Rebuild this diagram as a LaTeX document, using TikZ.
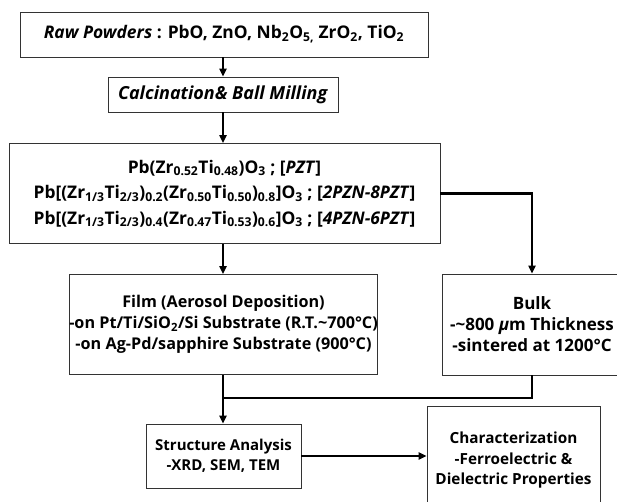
\documentclass[tikz,border=0pt]{standalone}
\usepackage{fontspec}
\setmainfont{Open Sans}
\usetikzlibrary{arrows.meta}
\newcommand\ssub[1]{\textsubscript{#1}}
\tikzset{
  box/.style={draw=black!80, line width=0.8pt, inner sep=0pt, align=center, font=\bfseries\fontsize{17.4}{25.5}\selectfont},
  conn/.style={line width=2.2pt, black},
  arr/.style={conn, -{Triangle[length=8pt,width=7pt]}}
}
\begin{document}
\begin{tikzpicture}[x=1pt,y=-1pt]
\useasboundingbox (0,0) rectangle (617,502);
\clip (0,0) rectangle (617,502);
\fill[white] (0,0) rectangle (617,502);
\node[box, minimum width=408pt, minimum height=45pt] (raw) at (224,34.5)
  {\textit{Raw Powders} : PbO, ZnO, Nb\ssub{2}O\ssub{5,} ZrO\ssub{2}, TiO\ssub{2}};
\node[box, minimum width=230pt, minimum height=35pt, font=\bfseries\fontsize{18}{22}\selectfont] (calc) at (223,94.5)
  {\textit{Calcination\& Ball Milling}};
\node[box, minimum width=431pt, minimum height=100pt] (comp) at (224.5,193.5)
  {Pb(Zr\ssub{0.52}Ti\ssub{0.48})O\ssub{3} ; [\textit{PZT}]\\
   Pb[(Zr\ssub{1/3}Ti\ssub{2/3})\ssub{0.2}(Zr\ssub{0.50}Ti\ssub{0.50})\ssub{0.8}]O\ssub{3} ; [\textit{2PZN-8PZT}]\\
   Pb[(Zr\ssub{1/3}Ti\ssub{2/3})\ssub{0.4}(Zr\ssub{0.47}Ti\ssub{0.53})\ssub{0.6}]O\ssub{3} ; [\textit{4PZN-6PZT}]};
\node[box, minimum width=305pt, minimum height=100pt, font=\bfseries\fontsize{16.2}{21}\selectfont] (film) at (223.5,324.5)
  {Film (Aerosol Deposition)\\
   -on Pt/Ti/SiO\ssub{2}/Si Substrate (R.T.\textasciitilde700°C)\\
   -on Ag-Pd/sapphire Substrate (900°C)};
\node[box, minimum width=180pt, minimum height=101pt, font=\bfseries\fontsize{17}{21}\selectfont] (bulk) at (532,324.5)
  {Bulk\\ -\textasciitilde800 \textit{μ}m Thickness\\ -sintered at 1200°C};
\node[box, minimum width=155pt, minimum height=64pt, font=\bfseries\fontsize{15}{20}\selectfont] (struct) at (223.5,456)
  {Structure Analysis\\ -XRD, SEM, TEM};
\node[box, minimum width=173pt, minimum height=109pt, font=\bfseries\fontsize{15.3}{20.5}\selectfont] (char) at (513.5,460.5)
  {Characterization\\ -Ferroelectric \&\\ Dielectric Properties};
\coordinate (col) at (223,0);
\coordinate (j) at (223,398);
\draw[arr] (raw.south -| col) -- (calc.north -| col);
\draw[arr] (calc.south -| col) -- (comp.north -| col);
\draw[arr] (comp.south -| col) -- (film.north -| col);
\draw[arr] (comp.east) -| (bulk.north);
\draw[conn] (film.south -| col) -- (j);
\draw[conn] (bulk.south) |- (j);
\draw[arr] (j) -- (struct.north -| col);
\draw[arr] (struct.east) -- (struct.east -| char.west);
\end{tikzpicture}
\end{document}
